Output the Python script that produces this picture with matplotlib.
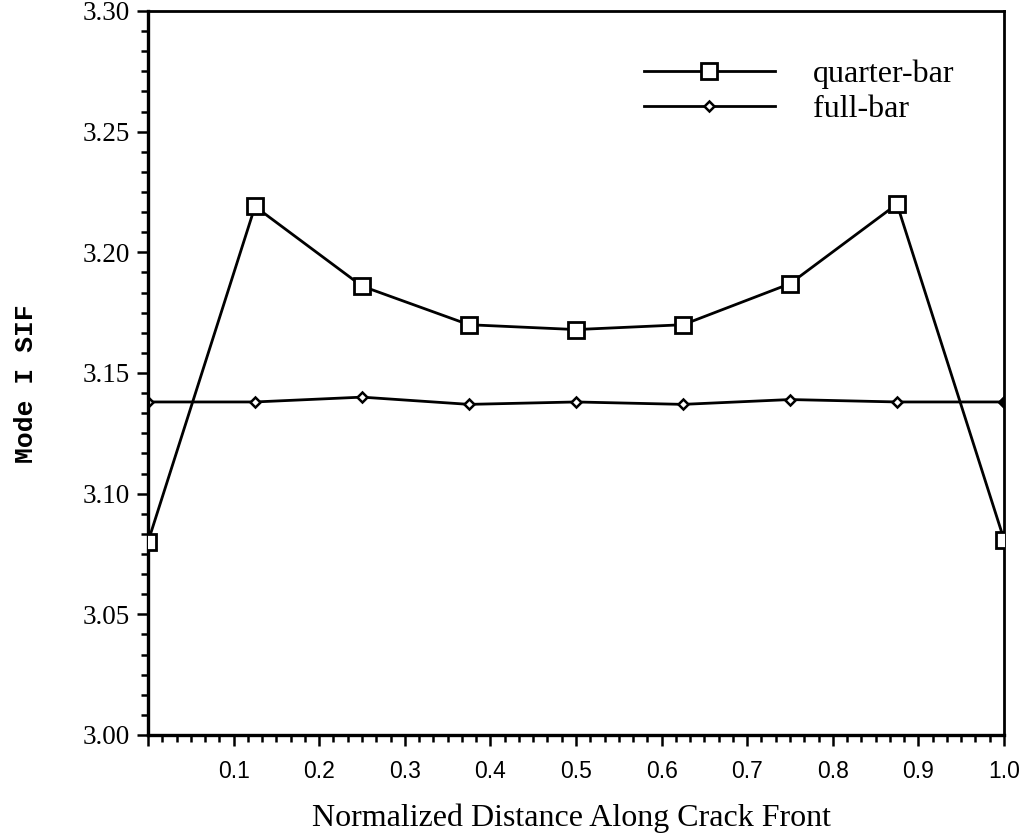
import matplotlib
matplotlib.use("Agg")
import matplotlib.pyplot as plt
from matplotlib.ticker import MultipleLocator, FuncFormatter

# ── Data ─────────────────────────────────────────────────────────────────────
positions   = [0.0, 0.125, 0.25, 0.375, 0.5, 0.625, 0.75, 0.875, 1.0]
quarter_bar = [3.080, 3.219, 3.186, 3.170, 3.168, 3.170, 3.187, 3.220, 3.081]
full_bar    = [3.138, 3.138, 3.140, 3.137, 3.138, 3.137, 3.139, 3.138, 3.138]

x_ticks = [0.0, 0.1, 0.2, 0.3, 0.4, 0.5, 0.6, 0.7, 0.8, 0.9, 1.0]
y_ticks = [3.00, 3.05, 3.10, 3.15, 3.20, 3.25, 3.30]

SERIF = "Liberation Serif"
SANS  = "Liberation Sans"
MONO  = "Liberation Mono"

# ── Figure ───────────────────────────────────────────────────────────────────
fig = plt.figure(figsize=(10.23, 8.36), dpi=100)
ax = fig.add_axes([148/1023, 1 - 735/836, (1004 - 148)/1023, (735 - 11)/836])

ax.plot(positions, quarter_bar, color="black", linewidth=2.0,
        marker="s", markersize=11.5, markerfacecolor="white",
        markeredgecolor="black", markeredgewidth=2.0, label="quarter-bar",
        zorder=3)
ax.plot(positions, full_bar, color="black", linewidth=2.0,
        marker="D", markersize=5, markerfacecolor="white",
        markeredgecolor="black", markeredgewidth=1.8, label="full-bar",
        zorder=2)
# last full-bar point is drawn filled in the original
ax.plot(positions[-1], full_bar[-1], marker="D", markersize=6.5,
        color="black", zorder=4)

ax.set_xlim(0.0, 1.0)
ax.set_ylim(3.00, 3.30)

ax.set_xticks(x_ticks)
ax.xaxis.set_minor_locator(MultipleLocator(0.1 / 6))
ax.xaxis.set_major_formatter(FuncFormatter(lambda v, p: "" if v == 0 else f"{v:.1f}"))
ax.set_yticks(y_ticks)
ax.yaxis.set_minor_locator(MultipleLocator(0.05 / 6))
ax.yaxis.set_major_formatter(FuncFormatter(lambda v, p: f"{v:.2f}"))

ax.tick_params(axis="both", which="major", direction="out", length=8, width=1.8)
ax.tick_params(axis="both", which="minor", direction="out", length=5, width=1.8)
ax.tick_params(axis="x", which="major", pad=10, labelsize=16.5, labelfontfamily=SANS)
ax.tick_params(axis="y", which="major", pad=5, labelsize=19.5, labelfontfamily=SERIF)

for side in ["left", "bottom"]:
    ax.spines[side].set_linewidth(2.4)
for side in ["top", "right"]:
    ax.spines[side].set_linewidth(2.0)

ax.set_xlabel("Normalized Distance Along Crack Front", fontfamily=SERIF, fontsize=23)
ax.xaxis.set_label_coords(0.495, -0.094)
ax.set_ylabel("Mode I SIF", fontfamily=MONO, fontsize=19, fontweight="bold")
ax.yaxis.set_label_coords(-0.128, 0.486)

ax.legend(loc="center left", bbox_to_anchor=(0.579, 0.888), frameon=False,
          prop={"family": SERIF, "size": 23}, handlelength=4.1,
          handletextpad=1.2, labelspacing=0.18, borderpad=0, borderaxespad=0)

fig.savefig("out.png", dpi=100)
